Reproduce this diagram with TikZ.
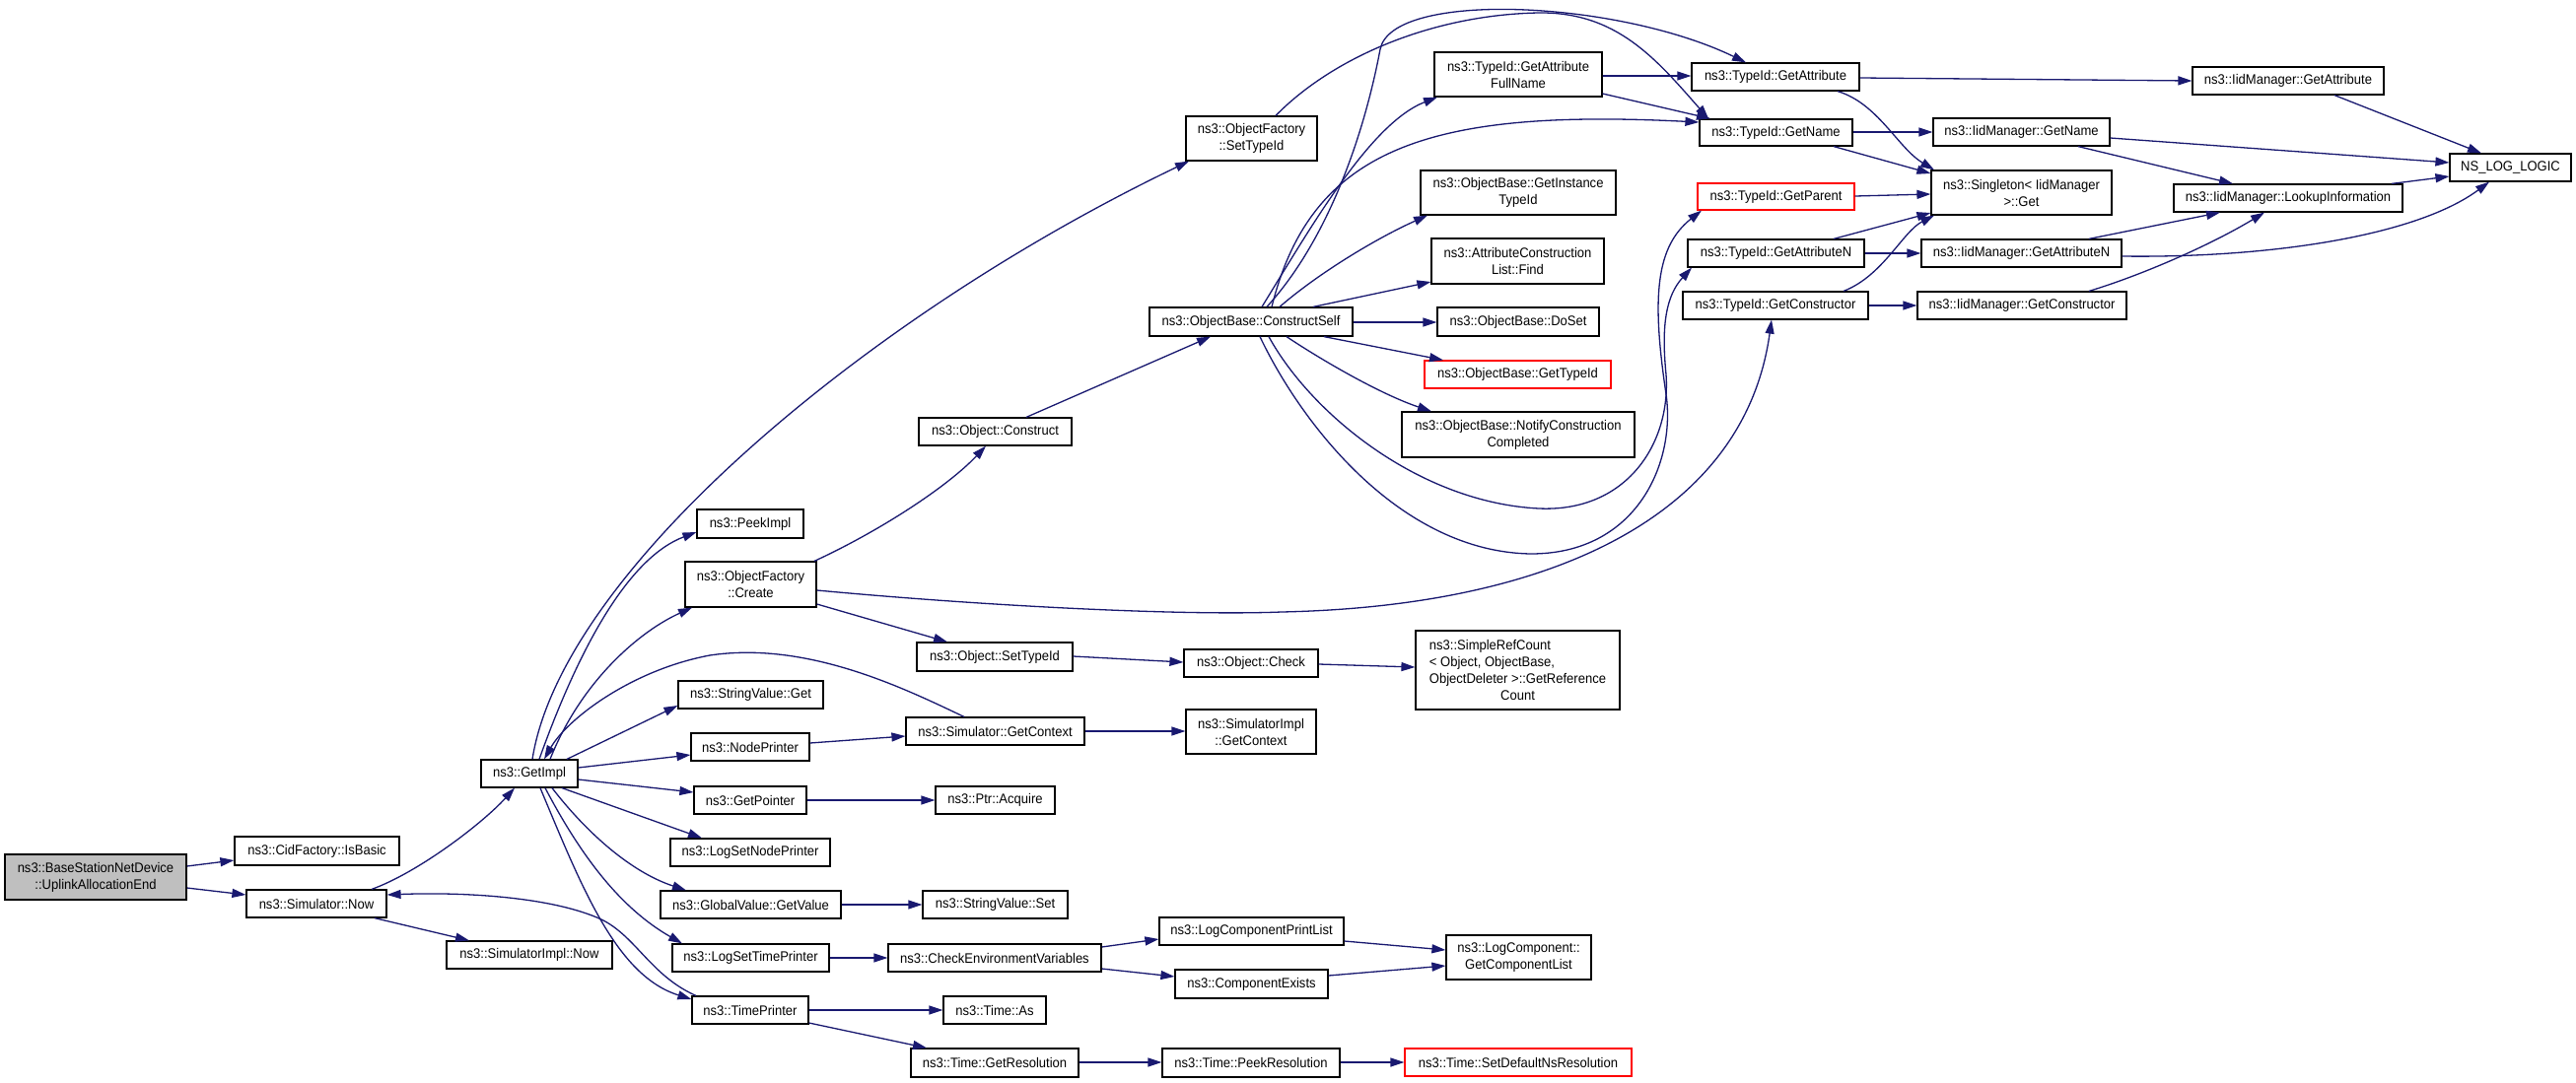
\documentclass[tikz,border=0pt]{standalone}
\usepackage{fontspec}
\setmainfont{Liberation Sans}[FakeStretch=0.93]
\usetikzlibrary{arrows.meta,calc}
\definecolor{edgec}{HTML}{191970}
\definecolor{bsgray}{HTML}{BFBFBF}
\newcommand\mynode[7][]{\node[box,#1,minimum width={(#5-#3)*0.5pt},minimum height={(#6-#4)*0.5pt}] (#2) at ({(#3+#5)/2},{(#4+#6)/2}) {#7};}
\newcommand\lftline[1]{\makebox[0pt][l]{#1}\phantom{ObjectDeleter >::GetReference}}
\begin{document}
\begin{tikzpicture}[x=0.5pt,y=-0.5pt,
  box/.style={draw=black, line width=0.6pt, fill=white, inner sep=1pt, align=center, font=\fontsize{7pt}{8.5pt}\selectfont},
  redbox/.style={draw=red},
  edge/.style={draw=edgec, line width=0.65pt, -{Triangle[length=7pt,width=4.5pt]}}]
\fill[white] (0,0) rectangle (2613,1098);
\useasboundingbox (0,0) rectangle (2613,1098);
% nodes
\mynode[fill=bsgray]{bsnd}{5}{867}{189}{913}{ns3::BaseStationNetDevice\\::UplinkAllocationEnd}
\mynode{isbasic}{238}{849}{405}{878}{ns3::CidFactory::IsBasic}
\mynode{simnow}{250}{903}{392}{931}{ns3::Simulator::Now}
\mynode{simimplnow}{453}{955}{621}{983}{ns3::SimulatorImpl::Now}
\mynode{getimpl}{488}{771}{586}{799}{ns3::GetImpl}
\mynode{ofsettypeid}{1203}{118}{1336}{163}{ns3::ObjectFactory\\::SetTypeId}
\mynode{peekimpl}{707}{517}{815}{546}{ns3::PeekImpl}
\mynode{ofcreate}{695}{570}{828}{616}{ns3::ObjectFactory\\::Create}
\mynode{objconstruct}{932}{424}{1087}{452}{ns3::Object::Construct}
\mynode{objsettypeid}{930}{652}{1088}{681}{ns3::Object::SetTypeId}
\mynode{objcheck}{1201}{659}{1337}{687}{ns3::Object::Check}
\mynode{simplerefcount}{1436}{640}{1643}{720}{\lftline{ns3::SimpleRefCount}\\\lftline{< Object, ObjectBase,}\\ObjectDeleter >::GetReference\\Count}
\mynode{strget}{688}{691}{835}{719}{ns3::StringValue::Get}
\mynode{simgetctx}{919}{728}{1100}{756}{ns3::Simulator::GetContext}
\mynode{simimplctx}{1203}{720}{1335}{765}{ns3::SimulatorImpl\\::GetContext}
\mynode{nodeprinter}{701}{744}{821}{772}{ns3::NodePrinter}
\mynode{getpointer}{704}{798}{818}{826}{ns3::GetPointer}
\mynode{ptracquire}{949}{798}{1070}{826}{ns3::Ptr::Acquire}
\mynode{logsetnode}{680}{851}{842}{879}{ns3::LogSetNodePrinter}
\mynode{gvgetvalue}{670}{904}{853}{932}{ns3::GlobalValue::GetValue}
\mynode{strset}{936}{904}{1083}{932}{ns3::StringValue::Set}
\mynode{logsettime}{682}{958}{841}{986}{ns3::LogSetTimePrinter}
\mynode{checkenv}{901}{958}{1117}{986}{ns3::CheckEnvironmentVariables}
\mynode{logcompprint}{1176}{931}{1363}{959}{ns3::LogComponentPrintList}
\mynode{compexists}{1192}{984}{1347}{1013}{ns3::ComponentExists}
\mynode{getcomplist}{1467}{949}{1614}{994}{ns3::LogComponent::\\GetComponentList}
\mynode{timeprinter}{702}{1011}{820}{1039}{ns3::TimePrinter}
\mynode{timeas}{957}{1011}{1061}{1039}{ns3::Time::As}
\mynode{getres}{924}{1064}{1094}{1093}{ns3::Time::GetResolution}
\mynode{peekres}{1179}{1064}{1359}{1093}{ns3::Time::PeekResolution}
\mynode[redbox]{setdefns}{1425}{1064}{1655}{1092}{ns3::Time::SetDefaultNsResolution}
\mynode{constructself}{1166}{312}{1372}{341}{ns3::ObjectBase::ConstructSelf}
\mynode{fullname}{1455}{53}{1625}{98}{ns3::TypeId::GetAttribute\\FullName}
\mynode{tgetattr}{1716}{64}{1886}{92}{ns3::TypeId::GetAttribute}
\mynode{tgetname}{1724}{121}{1879}{148}{ns3::TypeId::GetName}
\mynode{instancetid}{1441}{173}{1639}{218}{ns3::ObjectBase::GetInstance\\TypeId}
\mynode{aclfind}{1452}{242}{1627}{288}{ns3::AttributeConstruction\\List::Find}
\mynode{doset}{1458}{312}{1622}{341}{ns3::ObjectBase::DoSet}
\mynode[redbox]{obgettid}{1445}{366}{1634}{394}{ns3::ObjectBase::GetTypeId}
\mynode{notify}{1422}{418}{1658}{464}{ns3::ObjectBase::NotifyConstruction\\Completed}
\mynode[redbox]{tgetparent}{1722}{186}{1881}{213}{ns3::TypeId::GetParent}
\mynode{tgetattrn}{1712}{243}{1891}{271}{ns3::TypeId::GetAttributeN}
\mynode{tgetctor}{1707}{296}{1895}{324}{ns3::TypeId::GetConstructor}
\mynode{iidgetattr}{2224}{68}{2418}{96}{ns3::IidManager::GetAttribute}
\mynode{iidgetname}{1961}{120}{2140}{148}{ns3::IidManager::GetName}
\mynode{singleton}{1959}{173}{2142}{218}{ns3::Singleton< IidManager\\>::Get}
\mynode{lookup}{2205}{187}{2437}{215}{ns3::IidManager::LookupInformation}
\mynode{nslog}{2485}{156}{2608}{184}{NS\_LOG\_LOGIC}
\mynode{iidgetattrn}{1949}{243}{2152}{271}{ns3::IidManager::GetAttributeN}
\mynode{iidgetctor}{1945}{296}{2157}{324}{ns3::IidManager::GetConstructor}
% edges
\draw[edge] (bsnd.east |- 0,879) -- (isbasic.west |- 0,873);
\draw[edge] (bsnd.east |- 0,901) -- (simnow.west |- 0,908);
\draw[edge] (377,0 |- simnow.north) .. controls (425,885) and (490,835) .. (522,0 |- getimpl.south);
\draw[edge] (380,0 |- simnow.south) -- (476,0 |- simimplnow.north);
\draw[edge] (706,0 |- timeprinter.north) .. controls (660,990) and (645,950) .. (610,933) .. controls (560,910) and (470,905) .. (simnow.east |- 0,908);
\draw[edge] (540,0 |- getimpl.north) .. controls (570,580) and (880,320) .. (1206,0 |- ofsettypeid.south);
\draw[edge] (547,0 |- getimpl.north) .. controls (590,650) and (640,565) .. (peekimpl.west |- 0,540);
\draw[edge] (558,0 |- getimpl.north) .. controls (590,690) and (650,640) .. (702,0 |- ofcreate.south);
\draw[edge] (575,0 |- getimpl.north) -- (strget.west |- 0,716);
\draw[edge] (getimpl.east |- 0,779) -- (nodeprinter.west |- 0,766);
\draw[edge] (getimpl.east |- 0,791) -- (getpointer.west |- 0,804);
\draw[edge] (570,0 |- getimpl.south) -- (712,0 |- logsetnode.north);
\draw[edge] (560,0 |- getimpl.south) .. controls (595,845) and (640,885) .. (696,0 |- gvgetvalue.north);
\draw[edge] (553,0 |- getimpl.south) .. controls (590,870) and (630,922) .. (692,0 |- logsettime.north);
\draw[edge] (548,0 |- getimpl.south) .. controls (590,900) and (625,990) .. (timeprinter.west |- 0,1014);
\draw[edge] (978,0 |- simgetctx.north) .. controls (920,700) and (820,650) .. (720,665) .. controls (640,680) and (575,730) .. (552,0 |- getimpl.north);
\draw[edge] (simgetctx.east |- 0,742) -- (simimplctx.west |- 0,742);
\draw[edge] (nodeprinter.east |- 0,754) -- (simgetctx.west |- 0,747);
\draw[edge] (getpointer.east |- 0,812) -- (ptracquire.west |- 0,812);
\draw[edge] (gvgetvalue.east |- 0,918) -- (strset.west |- 0,918);
\draw[edge] (logsettime.east |- 0,972) -- (checkenv.west |- 0,972);
\draw[edge] (checkenv.east |- 0,961) -- (logcompprint.west |- 0,953);
\draw[edge] (checkenv.east |- 0,983) -- (compexists.west |- 0,991);
\draw[edge] (logcompprint.east |- 0,955) -- (getcomplist.west |- 0,964);
\draw[edge] (compexists.east |- 0,990) -- (getcomplist.west |- 0,980);
\draw[edge] (timeprinter.east |- 0,1025) -- (timeas.west |- 0,1025);
\draw[edge] (timeprinter.east |- 0,1038) -- (940,0 |- getres.north);
\draw[edge] (getres.east |- 0,1078) -- (peekres.west |- 0,1078);
\draw[edge] (peekres.east |- 0,1078) -- (setdefns.west |- 0,1078);
\draw[edge] (826,0 |- ofcreate.north) .. controls (890,540) and (960,495) .. (1000,0 |- objconstruct.south);
\draw[edge] (ofcreate.east |- 0,613) -- (961,0 |- objsettypeid.north);
\draw[edge] (ofcreate.east |- 0,599) .. controls (1000,615) and (1200,625) .. (1300,621) .. controls (1580,615) and (1770,520) .. (1797,0 |- tgetctor.south);
\draw[edge] (objsettypeid.east |- 0,666) -- (objcheck.west |- 0,672);
\draw[edge] (objcheck.east |- 0,674) -- (simplerefcount.west |- 0,677);
\draw[edge] (1041,0 |- objconstruct.north) -- (1228,0 |- constructself.south);
\draw[edge] (1280,0 |- constructself.north) .. controls (1330,230) and (1390,125) .. (1458,0 |- fullname.south);
\draw[edge] (1285,0 |- constructself.north) .. controls (1350,240) and (1385,130) .. (1400,50) .. controls (1412,-10) and (1640,0) .. (1771,0 |- tgetattr.north);
\draw[edge] (1294,0 |- ofsettypeid.north) .. controls (1350,60) and (1450,15) .. (1561,13) .. controls (1640,12) and (1680,60) .. (1733,0 |- tgetname.north);
\draw[edge] (1290,0 |- constructself.north) .. controls (1330,150) and (1450,110) .. (tgetname.west |- 0,124);
\draw[edge] (1298,0 |- constructself.north) .. controls (1340,275) and (1400,240) .. (1448,0 |- instancetid.south);
\draw[edge] (1332,0 |- constructself.north) -- (aclfind.west |- 0,286);
\draw[edge] (constructself.east |- 0,327) -- (doset.west |- 0,327);
\draw[edge] (1343,0 |- constructself.south) -- (1464,0 |- obgettid.north);
\draw[edge] (1305,0 |- constructself.south) .. controls (1340,365) and (1400,400) .. (1452,0 |- notify.north);
\draw[edge] (1278,0 |- constructself.south) .. controls (1320,430) and (1420,560) .. (1553,562) .. controls (1660,562) and (1700,470) .. (1690,400) .. controls (1675,300) and (1680,250) .. (1726,0 |- tgetparent.south);
\draw[edge] (1287,0 |- constructself.south) .. controls (1330,420) and (1440,510) .. (1561,516) .. controls (1650,520) and (1695,450) .. (1690,380) .. controls (1685,330) and (1690,300) .. (1716,0 |- tgetattrn.south);
\draw[edge] (fullname.east |- 0,77) -- (tgetattr.west |- 0,77);
\draw[edge] (fullname.east |- 0,95) -- (1735,0 |- tgetname.north);
\draw[edge] (tgetattr.east |- 0,79) -- (iidgetattr.west |- 0,82);
\draw[edge] (1864,0 |- tgetattr.south) .. controls (1905,105) and (1925,150) .. (1962,0 |- singleton.north);
\draw[edge] (tgetname.east |- 0,134) -- (iidgetname.west |- 0,134);
\draw[edge] (1860,0 |- tgetname.south) -- (singleton.west |- 0,176);
\draw[edge] (tgetparent.east |- 0,199) -- (singleton.west |- 0,197);
\draw[edge] (1860,0 |- tgetattrn.north) -- (singleton.west |- 0,216);
\draw[edge] (tgetattrn.east |- 0,257) -- (iidgetattrn.west |- 0,257);
\draw[edge] (1870,0 |- tgetctor.north) .. controls (1910,280) and (1930,235) .. (1962,0 |- singleton.south);
\draw[edge] (tgetctor.east |- 0,310) -- (iidgetctor.west |- 0,310);
\draw[edge] (2368,0 |- iidgetattr.south) -- (2517,0 |- nslog.north);
\draw[edge] (iidgetname.east |- 0,140) -- (nslog.west |- 0,165);
\draw[edge] (2108,0 |- iidgetname.south) -- (2265,0 |- lookup.north);
\draw[edge] (2426,0 |- lookup.north) -- (nslog.west |- 0,179);
\draw[edge] (2119,0 |- iidgetattrn.north) -- (2252,0 |- lookup.south);
\draw[edge] (iidgetattrn.east |- 0,260) .. controls (2300,262) and (2450,240) .. (2525,0 |- nslog.south);
\draw[edge] (2119,0 |- iidgetctor.north) .. controls (2170,280) and (2240,250) .. (2297,0 |- lookup.south);
\end{tikzpicture}
\end{document}
